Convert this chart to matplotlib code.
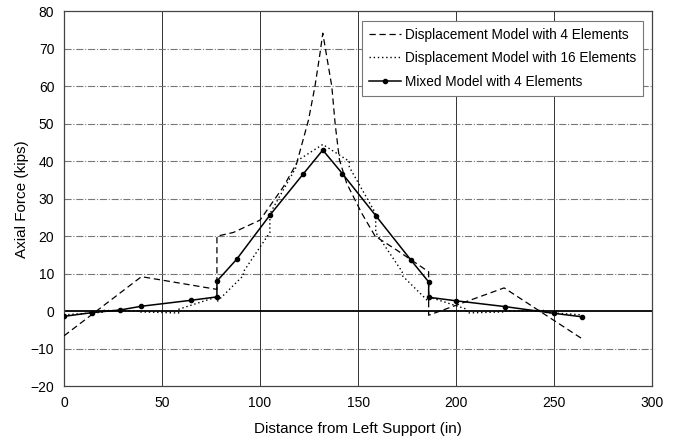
import matplotlib.pyplot as plt

plt.rcParams["font.family"] = ["Liberation Sans", "DejaVu Sans"]

# Displacement model with 4 elements (dashed)
x_d4 = [0, 39.5, 78, 78, 86.4, 100, 111.9, 118.7, 124.7, 128, 130.6, 132,
        136.6, 138.3, 140.5, 144.2, 151.9, 158.7, 169.7, 186, 186, 224.5, 264]
y_d4 = [-6.6, 9.2, 5.8, 20.0, 21.0, 24.3, 33.2, 39.5, 51.0, 60.0, 68.9, 74.2,
        60.0, 50.0, 40.4, 34.1, 26.1, 20.0, 16.3, 10.5, -1.1, 6.2, -7.3]

# Displacement model with 16 elements (dotted)
x_d16 = [0, 19.5, 19.5, 39, 39, 58.5, 58.5, 78, 78, 91.5, 91.5, 105, 105,
         118.5, 118.5, 132, 145.5, 145.5, 159, 159, 172.5, 172.5, 186, 186,
         205.5, 205.5, 225, 225, 244.5, 244.5, 264]
y_d16 = [-1.0, -0.3, 0.2, 0.0, -0.2, -0.5, 0.5, 3.8, 2.5, 9.5, 10.5, 21.0, 26.0,
         38.5, 40.0, 44.5, 40.0, 38.5, 26.0, 21.0, 10.5, 9.5, 2.5, 3.8,
         0.5, -0.5, -0.2, 0.0, 0.2, -0.3, -1.0]

# Mixed model with 4 elements (solid with markers)
x_mx = [0, 14.3, 28.6, 39.5, 65, 78, 78, 88, 105, 122, 132, 142, 159, 177,
        186, 186, 200, 225, 250, 264]
y_mx = [-1.4, -0.4, 0.3, 1.3, 2.9, 3.8, 8.0, 13.8, 25.6, 36.6, 43.0, 36.7,
        25.5, 13.6, 7.8, 3.7, 2.75, 1.2, -0.6, -1.5]

fig = plt.figure(figsize=(6.76, 4.4), dpi=100)
ax = fig.add_axes([0.0947, 0.1227, 0.87, 0.8512])

# grid: vertical solid, horizontal dash-dot
for xv in [50, 100, 150, 200, 250]:
    ax.axvline(xv, color="#333333", lw=0.7, zorder=1)
for yv in [-10, 10, 20, 30, 40, 50, 60, 70]:
    ax.axhline(yv, color="#777777", lw=0.8, ls="-.", zorder=1)
ax.axhline(0, color="black", lw=1.3, zorder=2)

ax.plot(x_d4, y_d4, color="black", ls=(0, (5, 3)), lw=0.9,
        label="Displacement Model with 4 Elements", zorder=3)
ax.plot(x_d16, y_d16, color="black", ls=(0, (1, 2)), lw=1.0,
        label="Displacement Model with 16 Elements", zorder=3)
ax.plot(x_mx, y_mx, color="black", ls="-", lw=1.1, marker="o", ms=3,
        label="Mixed Model with 4 Elements", zorder=4)

ax.set_xlim(0, 300)
ax.set_ylim(-20, 80)
ax.set_xticks(range(0, 301, 50))
ax.set_yticks(range(-20, 81, 10))
ax.tick_params(length=0, labelsize=10, pad=7)
for s in ax.spines.values():
    s.set_color("#444444")
    s.set_linewidth(0.9)

ax.set_xlabel("Distance from Left Support (in)", fontsize=11, labelpad=9)
ax.set_ylabel("Axial Force (kips)", fontsize=11, labelpad=1)

leg = ax.legend(loc="upper right", fontsize=9.8, fancybox=False, framealpha=1,
                edgecolor="#777777", borderpad=0.5, labelspacing=0.7,
                handlelength=2.4, handletextpad=0.3, borderaxespad=0,
                bbox_to_anchor=(0.985, 0.975))
leg.get_frame().set_linewidth(0.8)

plt.savefig("out.png", dpi=100)
